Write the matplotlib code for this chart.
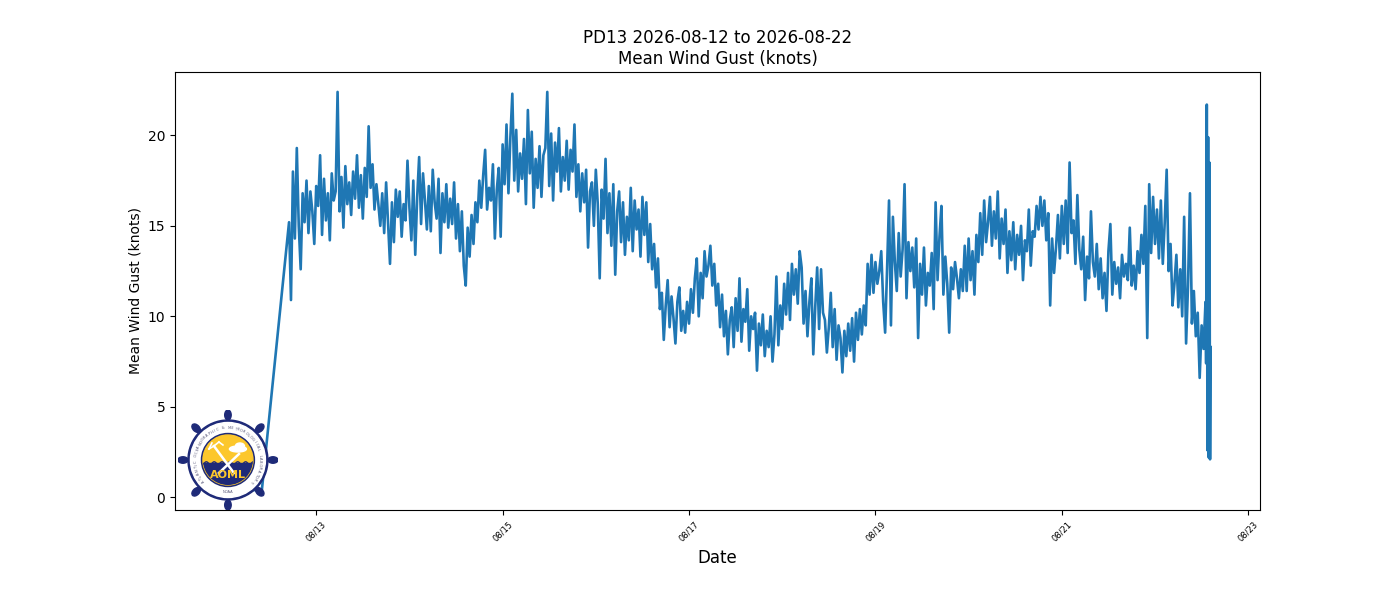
import numpy as np
import pandas as pd
import matplotlib
matplotlib.use("Agg")
import matplotlib.pyplot as plt
import matplotlib.dates as mdates
from matplotlib.patches import Circle, Rectangle, Ellipse

# ---------------- data ----------------
chart_title = "PD13 2026-08-12 to 2026-08-22\nMean Wind Gust (knots)"
x_label = "Date"
y_label = "Mean Wind Gust (knots)"

start_times = ["2026-08-12 00:20", "2026-08-12 10:00"]
start_gust = [0.4, 0.4]

main_start = "2026-08-12 17:00"   # 30-minute readings
main_gust = [
    15.2, 10.9, 18.0, 14.3, 19.3, 15.0, 12.6, 16.8, 15.2, 17.5, 14.6, 16.9,
    15.8, 14.0, 17.2, 16.1, 18.9, 14.5, 17.6, 15.3, 16.8, 14.2, 17.9, 16.4,
    16.9, 22.4, 15.8, 17.7, 14.9, 18.3, 16.2, 17.4, 15.6, 18.0, 16.5, 18.9,
    16.0, 17.8, 15.4, 18.2, 16.6, 20.5, 17.1, 18.4, 15.9, 17.3, 16.2, 15.0,
    16.8, 14.6, 17.4, 15.2, 12.9, 16.3, 14.1, 17.0, 15.5, 16.9, 14.4, 16.2,
    15.3, 18.6, 16.0, 14.2, 17.5, 13.4, 16.6, 18.8, 15.1, 17.9, 16.4, 14.8,
    17.2, 14.7, 18.1, 16.3, 15.4, 17.6, 13.5, 16.8, 15.2, 17.3, 14.9, 16.5,
    15.1, 17.4, 14.3, 16.2, 13.6, 15.8, 12.8, 11.7, 14.9, 13.3, 15.6, 14.0,
    16.3, 15.2, 17.5, 16.0, 17.8, 19.2, 15.9, 17.1, 16.4, 18.4, 14.3, 17.0,
    18.2, 14.4, 19.5, 17.3, 20.6, 16.8, 19.9, 22.3, 17.5, 20.3, 16.9, 19.0,
    17.6, 19.8, 16.2, 21.4, 17.9, 20.2, 16.0, 18.7, 17.1, 19.4, 16.6, 18.9,
    19.3, 22.4, 17.2, 20.1, 16.4, 19.6, 18.0, 20.4, 16.9, 18.8, 17.5, 19.7,
    17.0, 19.2, 18.0, 20.6, 16.6, 18.4, 15.8, 17.9, 16.3, 18.1, 13.8, 16.9,
    17.4, 15.0, 18.1, 16.2, 12.1, 17.0, 15.4, 18.7, 14.6, 16.8, 13.9, 17.3,
    12.3, 15.8, 16.9, 14.1, 16.3, 13.4, 15.5, 14.2, 17.1, 13.6, 16.4, 14.8,
    15.9, 13.3, 16.6, 14.5, 16.3, 13.0, 15.1, 12.6, 14.0, 11.6, 13.2, 10.4,
    11.3, 8.7, 10.6, 12.0, 9.4, 11.1, 9.9, 8.5, 10.8, 11.6, 9.2, 10.3,
    9.1, 10.8, 9.6, 11.5, 10.2, 12.1, 13.2, 10.0, 12.4, 11.0, 13.6, 12.2,
    12.8, 13.9, 11.7, 12.9, 10.6, 11.8, 9.4, 11.2, 8.9, 10.3, 7.9, 9.8,
    10.5, 8.3, 11.0, 9.2, 12.1, 8.6, 10.4, 9.7, 11.5, 8.1, 10.0, 9.3,
    10.2, 7.0, 9.6, 8.4, 10.1, 7.8, 9.2, 8.3, 10.0, 7.5, 9.0, 12.2,
    8.4, 10.6, 9.3, 11.8, 10.1, 12.4, 9.8, 12.9, 11.2, 12.6, 10.7, 13.6,
    12.7, 9.6, 11.4, 8.9, 10.8, 12.1, 7.9, 10.5, 12.7, 9.3, 12.6, 10.2,
    9.8, 8.0, 9.4, 11.3, 8.3, 10.4, 7.6, 9.5, 8.8, 6.9, 9.2, 7.8,
    9.6, 8.1, 9.9, 7.5, 10.2, 8.7, 10.4, 9.0, 10.6, 9.5, 12.9, 11.2,
    13.4, 11.3, 13.0, 11.8, 12.5, 13.6, 10.8, 9.1, 12.6, 16.4, 9.5, 15.5,
    13.0, 11.4, 14.6, 12.2, 13.7, 17.3, 11.0, 14.1, 12.5, 13.8, 11.6, 14.3,
    8.8, 12.9, 11.2, 13.8, 10.6, 12.4, 11.7, 13.5, 10.4, 16.3, 12.0, 14.4,
    16.1, 11.2, 13.3, 11.8, 9.1, 12.7, 11.5, 13.0, 12.1, 11.0, 12.6, 11.4,
    13.9, 11.4, 14.3, 12.0, 13.6, 11.2, 14.5, 13.0, 15.7, 13.4, 16.4, 14.1,
    15.2, 16.6, 13.9, 15.8, 14.3, 16.9, 13.2, 15.4, 14.0, 15.9, 12.4, 14.7,
    13.1, 15.2, 12.6, 14.5, 13.4, 15.0, 12.0, 14.2, 13.6, 15.9, 12.8, 14.7,
    14.4, 16.1, 14.8, 16.6, 15.0, 16.4, 14.2, 15.7, 10.6, 14.3, 12.4, 13.8,
    15.6, 13.2, 16.1, 14.0, 16.4, 13.5, 18.5, 14.6, 15.3, 12.9, 16.7, 13.7,
    12.6, 14.4, 10.9, 13.3, 12.1, 15.8, 13.0, 12.2, 14.0, 11.5, 13.2, 11.0,
    12.4, 10.3, 13.6, 15.1, 11.2, 13.0, 11.8, 12.7, 11.0, 13.4, 12.2, 12.9,
    12.0, 14.9, 11.7, 12.8, 11.5, 13.6, 12.4, 14.5, 12.9, 16.1, 8.8, 17.3,
    13.5, 16.6, 14.0, 15.9, 13.2, 16.4, 12.9, 15.2, 18.1, 12.5, 14.0, 10.6,
    11.8, 13.4, 10.5, 12.6, 10.0, 15.5, 8.5, 11.7, 16.8, 9.6, 11.4, 8.9,
    10.2, 6.6, 9.5, 8.2, 10.8,
]

end_start = "2026-08-22 13:10"    # 10-minute readings
end_gust = [7.4, 21.7, 2.6, 19.9, 2.2, 18.5, 2.1, 8.3]

tick_days = list(range(1, 32, 2))

# ---------------- build series ----------------
times = (pd.to_datetime(start_times)
         .append(pd.date_range(main_start, periods=len(main_gust), freq="30min"))
         .append(pd.date_range(end_start, periods=len(end_gust), freq="10min")))
gust = np.array(start_gust + main_gust + end_gust)

# ---------------- figure ----------------
fig = plt.figure(figsize=(14, 6), dpi=100)
ax = fig.add_subplot(111)
fig.subplots_adjust(left=0.125, right=0.9, top=0.88, bottom=0.15)

ax.plot(times, gust, color="#1f77b4", linewidth=1.9)
ax.set_title(chart_title, fontsize=12)
ax.set_xlabel(x_label, fontsize=12)
ax.set_ylabel(y_label, fontsize=10)
ax.xaxis.set_major_locator(mdates.DayLocator(bymonthday=tick_days))
ax.xaxis.set_major_formatter(mdates.DateFormatter("%m/%d"))
for lbl in ax.get_xticklabels():
    lbl.set_rotation(45)
    lbl.set_fontsize(6)

# ---------------- AOML logo ----------------
navy = "#1e2a78"
yellow = "#fcc72c"
lax = fig.add_axes([0.1271, 0.15, 0.07143, 0.16667])
lax.set_xlim(-1, 1)
lax.set_ylim(-1, 1)
lax.axis("off")
lax.set_zorder(5)

for ang in np.arange(0, 360, 45):
    a = np.deg2rad(ang)
    lax.plot([0, 0.86 * np.cos(a)], [0, 0.86 * np.sin(a)], color=navy, lw=2.2,
             solid_capstyle="round", zorder=0.5)
    lax.add_patch(Ellipse((0.9 * np.cos(a), 0.9 * np.sin(a)), 0.2, 0.13,
                          angle=ang, color=navy, zorder=0.5))
lax.add_patch(Circle((0, 0), 0.8, color=navy, zorder=1))
lax.add_patch(Circle((0, 0), 0.75, color="white", zorder=1.1))
lax.add_patch(Circle((0, 0), 0.53, color=navy, zorder=1.2))
lax.add_patch(Circle((0, 0), 0.5, color=yellow, zorder=1.3))
water = Rectangle((-0.6, -0.6), 1.2, 0.54, color=navy, zorder=1.4)
lax.add_patch(water)
water.set_clip_path(Circle((0, 0), 0.5, transform=lax.transData))
wx = np.linspace(-0.5, 0.5, 60)
wline, = lax.plot(wx, -0.06 + 0.025 * np.sin(wx * 40), color=navy, lw=1, zorder=1.5)
wline.set_clip_path(Circle((0, 0), 0.5, transform=lax.transData))

# trident and lightning (white)
lax.plot([-0.28, 0.12], [0.28, -0.26], color="white", lw=1.8, zorder=3)
lax.plot([0.22, -0.18], [0.12, -0.26], color="white", lw=1.8, zorder=3)
lax.plot([-0.38, -0.28, -0.18], [0.22, 0.28, 0.36], color="white", lw=1.2, zorder=3)
lax.plot([-0.38, -0.32], [0.22, 0.34], color="white", lw=1.2, zorder=3)
lax.plot([-0.18, -0.1], [0.36, 0.3], color="white", lw=1.2, zorder=3)
lax.add_patch(Ellipse((0.2, 0.22), 0.34, 0.12, color="white", zorder=3))
lax.add_patch(Ellipse((0.24, 0.28), 0.18, 0.12, color="white", zorder=3))
lax.text(0, -0.3, "AOML", color=yellow, fontsize=8, fontweight="bold",
         ha="center", va="center", zorder=4)

ring_text = "ATLANTIC OCEANOGRAPHIC & METEOROLOGICAL LABORATORY"
angles = np.linspace(220, -40, len(ring_text))
for ch, ang in zip(ring_text, angles):
    a = np.deg2rad(ang)
    lax.text(0.64 * np.cos(a), 0.64 * np.sin(a), ch, fontsize=2.6,
             color="#555577", rotation=ang - 90, ha="center", va="center", zorder=4)
lax.text(0, -0.64, "NOAA", fontsize=2.6, color="#555577", ha="center", va="center",
         zorder=4)

fig.savefig("out.png", dpi=100)
